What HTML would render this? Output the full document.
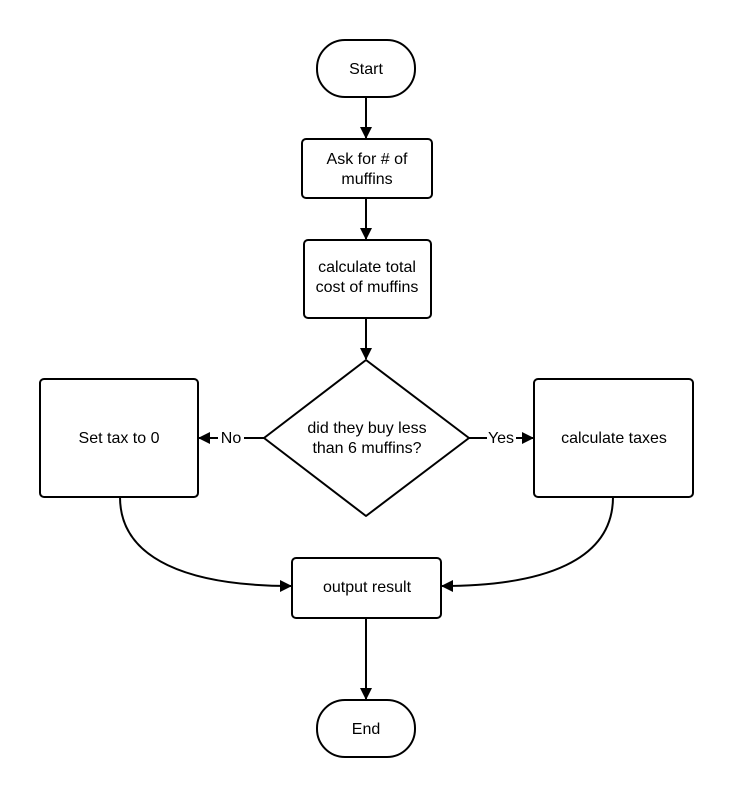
<!DOCTYPE html>
<html><head><style>html,body{margin:0;padding:0;background:#fff}</style></head>
<body>
<svg width="734" height="802" xmlns="http://www.w3.org/2000/svg" font-family="Liberation Sans, sans-serif" font-size="16" fill="none">
<defs><marker id="a" markerWidth="12" markerHeight="12" refX="11" refY="6" orient="auto" markerUnits="userSpaceOnUse"><path d="M0,0 L12,6 L0,12 z" fill="#000"/></marker></defs>
<g stroke="#000" stroke-width="2">
<rect x="317" y="40" width="98" height="57" rx="28" fill="#fff"/>
<rect x="302" y="139" width="130" height="59" rx="4" fill="#fff"/>
<rect x="304" y="240" width="127" height="78" rx="4" fill="#fff"/>
<path d="M366,360 L469,438 L366,516 L264,438 Z" stroke-linejoin="round" fill="#fff"/>
<rect x="40" y="379" width="158" height="118" rx="4" fill="#fff"/>
<rect x="534" y="379" width="159" height="118" rx="4" fill="#fff"/>
<rect x="292" y="558" width="149" height="60" rx="4" fill="#fff"/>
<rect x="317" y="700" width="98" height="57" rx="28" fill="#fff"/>
<line x1="366" y1="97" x2="366" y2="138" marker-end="url(#a)"/>
<line x1="366" y1="198" x2="366" y2="239" marker-end="url(#a)"/>
<line x1="366" y1="318" x2="366" y2="359" marker-end="url(#a)"/>
<line x1="366" y1="618" x2="366" y2="699" marker-end="url(#a)"/>
<line x1="264" y1="438" x2="244" y2="438"/>
<line x1="218" y1="438" x2="199" y2="438" marker-end="url(#a)"/>
<line x1="469" y1="438" x2="487" y2="438"/>
<line x1="516" y1="438" x2="533" y2="438" marker-end="url(#a)"/>
<path d="M120,497 C120,560 190,586 291,586" marker-end="url(#a)"/>
<path d="M613,497 C613,560 545,586 442,586" marker-end="url(#a)"/>
</g>
<g fill="#000" text-anchor="middle">
<text x="366" y="74">Start</text>
<text x="367" y="164">Ask for # of</text>
<text x="367" y="184">muffins</text>
<text x="367" y="272">calculate total</text>
<text x="367" y="292">cost of muffins</text>
<text x="367" y="433">did they buy less</text>
<text x="367" y="453">than 6 muffins?</text>
<text x="231" y="443">No</text>
<text x="501" y="443">Yes</text>
<text x="119" y="443">Set tax to 0</text>
<text x="614" y="443">calculate taxes</text>
<text x="367" y="592">output result</text>
<text x="366" y="734">End</text>
</g>
</svg>
</body></html>
